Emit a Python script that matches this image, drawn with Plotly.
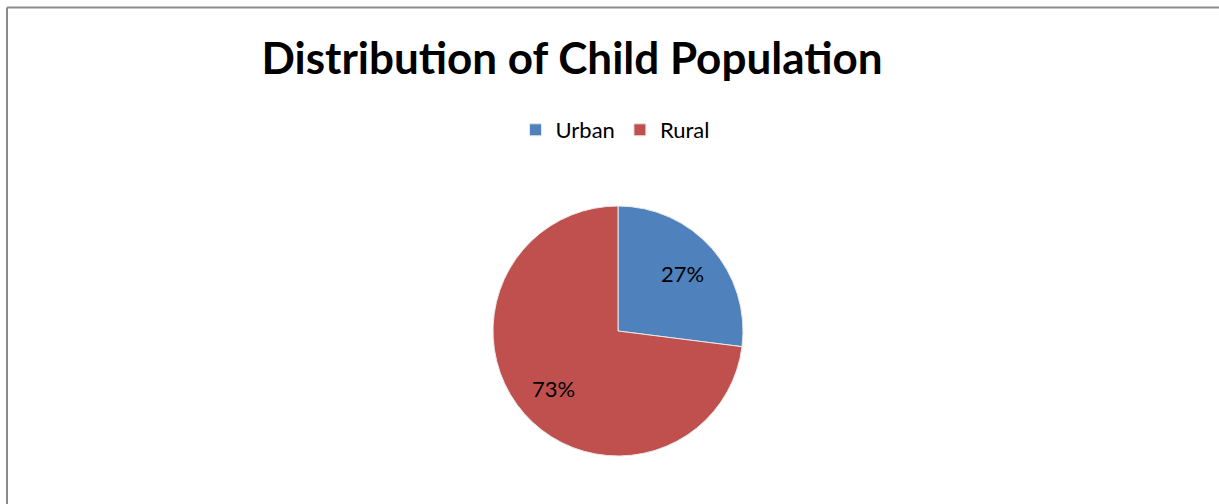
import math
import plotly.graph_objects as go

W, H = 1219, 504
categories = ["Urban", "Rural"]
values = [27, 73]
colors = ["#4F81BD", "#C0504D"]

# pie geometry (paper fractions)
dom_x = [493 / W, 743 / W]
dom_y = [1 - 456 / H, 1 - 206 / H]

fig = go.Figure(go.Pie(
    labels=categories,
    values=values,
    sort=False,
    direction="clockwise",
    rotation=0,
    marker=dict(colors=colors, line=dict(color="#E8E8E8", width=1)),
    textinfo="none",
    domain=dict(x=dom_x, y=dom_y),
    hoverinfo="label+percent",
))

# data labels placed at the middle angle of each slice, ~0.69 of the radius
cx = (dom_x[0] + dom_x[1]) / 2 * W
cy = (1 - (dom_y[0] + dom_y[1]) / 2) * H
r = (dom_x[1] - dom_x[0]) * W / 2
total = sum(values)
cum = 0
annotations = []
for v in values:
    mid = (cum + v / 2) / total * 2 * math.pi
    cum += v
    px = cx + 0.69 * r * math.sin(mid)
    py = cy - 0.69 * r * math.cos(mid)
    annotations.append(dict(
        x=px / W, y=1 - py / H, xref="paper", yref="paper",
        text=f"{round(100 * v / total)}%", showarrow=False,
        font=dict(size=22, family="Lato", color="black"),
        xanchor="center", yanchor="middle",
    ))

fig.update_layout(
    width=W, height=H,
    margin=dict(l=0, r=0, t=0, b=0),
    paper_bgcolor="white",
    plot_bgcolor="white",
    title=dict(
        text="<b>Distribution of Child Population</b>",
        x=572 / W, xanchor="center",
        y=1 - 59 / H, yanchor="middle",
        font=dict(size=44, family="Lato", color="black"),
    ),
    legend=dict(
        orientation="h",
        x=615 / W, xanchor="center",
        y=1 - 130 / H, yanchor="middle",
        font=dict(size=22, family="Lato", color="black"),
        itemwidth=30,
    ),
    annotations=annotations,
    shapes=[
        dict(type="line", xref="paper", yref="paper",
             x0=7 / W, x1=1, y0=1 - 7.5 / H, y1=1 - 7.5 / H,
             line=dict(color="#8A8A8A", width=2)),
        dict(type="line", xref="paper", yref="paper",
             x0=7 / W, x1=7 / W, y0=0, y1=1 - 7.5 / H,
             line=dict(color="#8A8A8A", width=2)),
    ],
)

fig.write_html("out.html", config={"displayModeBar": False})
